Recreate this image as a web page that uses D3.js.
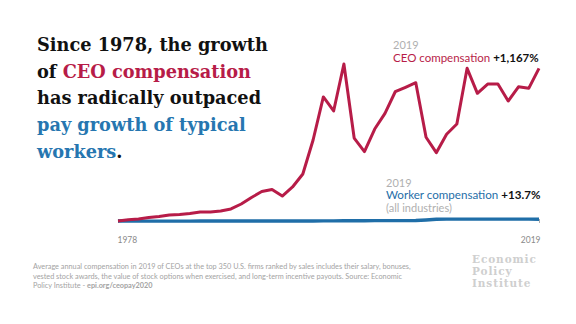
<!DOCTYPE html>
<html>
<head>
<meta charset="utf-8">
<script src="https://cdn.jsdelivr.net/npm/d3@7"></script>
<style>
  html, body { margin: 0; padding: 0; background: #fff; }
  svg { display: block; }
</style>
</head>
<body>
<svg id="chart" width="576" height="324"></svg>
<script>
const years = d3.range(1978, 2020);
const ceoGrowth = [0, 9, 15, 27, 34, 46, 50, 57, 69, 69, 76, 92, 130, 180, 225, 241, 191, 260, 359, 619, 948, 841, 1200, 634, 530, 703, 823, 988, 1022, 1057, 640, 522, 663, 741, 1167, 976, 1047, 1047, 917, 1026, 1014, 1167];
const workerGrowth = [0, 0, -1, -1, -1, -1, -1, -1, 0, 0, 0, 0, 0, 0, 0, 0, 0, 0, 0, 0, 1, 1, 2, 2, 2, 3, 3, 3, 3, 4, 8, 13, 14, 14, 14, 14, 14, 14, 14, 14, 14, 13.7];
const xTickLabels = ["1978", "2019"];
const titleLines = [
  [["Since 1978, the growth", "#111"]],
  [["of ", "#111"], ["CEO compensation", "#b71c48"]],
  [["has radically outpaced", "#111"]],
  [["pay growth of typical", "#2676b0"]],
  [["workers", "#2676b0"], [".", "#111"]]
];
const footnoteLines = [
  [["Average annual compensation in 2019 of CEOs at the top 350 U.S. firms ranked by sales includes their salary, bonuses,", false]],
  [["vested stock awards, the value of stock options when exercised, and long-term incentive payouts. Source: Economic", false]],
  [["Policy Institute - ", false], ["epi.org/ceopay2020", true]]
];
const logoLines = ["Economic", "Policy", "Institute"];

const RED = "#b71c48", BLUE = "#1f6ea8";
const svg = d3.select("#chart");

const x = d3.scaleLinear().domain([1978, 2019]).range([118, 539]);
const y = d3.scaleLinear().domain([0, 1200]).range([221, 64]);

// axis (only end labels)
const axis = d3.axisBottom(x).tickValues([1978, 2019]).tickFormat((d, i) => xTickLabels[i]).tickSize(4).tickPadding(14);
const gAxis = svg.append("g").attr("transform", "translate(0,219)").call(axis);
gAxis.select(".domain").remove();
gAxis.selectAll(".tick line").attr("stroke", "#999").attr("stroke-width", 0.8);
gAxis.selectAll(".tick text").attr("fill", "#8a8a8a").attr("font-family", "Lato, 'Open Sans', sans-serif").attr("font-size", "8.5px");
gAxis.selectAll(".tick text").filter(d => d === 1978).attr("text-anchor", "start").attr("dx", -1);
gAxis.selectAll(".tick text").filter(d => d === 2019).attr("text-anchor", "end").attr("dx", 1);

// lines
const line = d3.line().x((d, i) => x(years[i])).y(d => y(d));
svg.append("path").datum(workerGrowth).attr("d", line)
  .attr("fill", "none").attr("stroke", BLUE).attr("stroke-width", 3.4).attr("stroke-linejoin", "round");
svg.append("path").datum(ceoGrowth).attr("d", line)
  .attr("fill", "none").attr("stroke", RED).attr("stroke-width", 3).attr("stroke-linejoin", "round");

// title
const titleFont = "'DejaVu Serif', serif";
const t = svg.append("g");
const titleText = t.selectAll("text").data(titleLines).join("text")
  .attr("x", 37).attr("y", (d, i) => 51 + i * 26.7)
  .attr("font-family", titleFont).attr("font-weight", 700).attr("font-size", "20px");
titleText.selectAll("tspan").data(d => d).join("tspan").text(d => d[0]).attr("fill", d => d[1]);
const w0 = titleText.nodes()[0].getComputedTextLength();
const fs = 20 * 231 / w0;
titleText.attr("font-size", fs + "px");

// labels
const sans = "Lato, 'Open Sans', sans-serif";
function label(xp, yp, parts, size) {
  const tx = svg.append("text").attr("x", xp).attr("y", yp).attr("font-family", sans).attr("font-size", size + "px");
  parts.forEach(p => tx.append("tspan").text(p[0]).attr("fill", p[1]).attr("font-weight", p[2] || 400));
  return tx;
}
label(393, 48.5, [["2019", "#b0b0b0"]], 11);
label(393, 62.3, [["CEO compensation ", RED], ["+1,167%", "#111", 700]], 11.5);
label(386, 186.7, [["2019", "#b0b0b0"]], 11);
label(386, 199.3, [["Worker compensation ", BLUE], ["+13.7%", "#111", 700]], 11.6);
label(386, 212, [["(all industries)", "#b0b0b0"]], 11);

// footnote
const fn = svg.selectAll("text.fn").data(footnoteLines).join("text").attr("class", "fn")
  .attr("x", 33).attr("y", (d, i) => 269 + i * 9.5)
  .attr("font-family", sans).attr("font-size", "7.3px").attr("fill", "#a3a3a3");
fn.selectAll("tspan").data(d => d).join("tspan").text(d => d[0]).attr("font-weight", d => d[1] ? 700 : 400);

// logo
svg.selectAll("text.logo").data(logoLines).join("text").attr("class", "logo")
  .attr("x", 472).attr("y", (d, i) => 263 + i * 12.2)
  .attr("font-family", titleFont).attr("font-weight", 700).attr("font-size", "10.5px")
  .attr("letter-spacing", "0.9px")
  .attr("fill", "#cfcfcf").text(d => d);
</script>
</body>
</html>
